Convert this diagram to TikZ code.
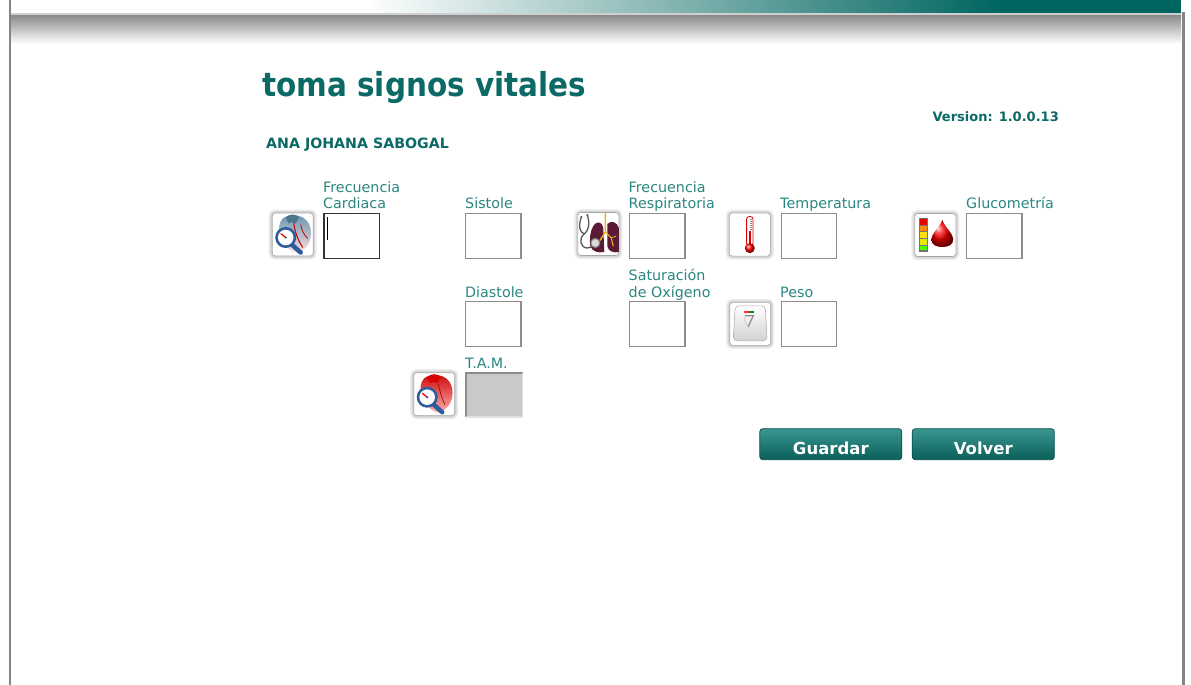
\documentclass[tikz,border=0pt]{standalone}
\usepackage{fontspec}
\setmainfont{DejaVu Sans}
\definecolor{titleteal}{HTML}{0B6A65}
\definecolor{labteal}{HTML}{2A8782}
\definecolor{barteal}{HTML}{00655F}
\definecolor{fieldgray}{HTML}{8C8C8C}
\definecolor{bandgray}{HTML}{CFCFCF}
\definecolor{shadowgray}{HTML}{8E8E8E}
\definecolor{linegray}{HTML}{858585}
\definecolor{btntop}{HTML}{3A9690}
\definecolor{btnbot}{HTML}{0A5F5A}
\definecolor{btndark}{HTML}{0A4F4B}
\definecolor{heartblue}{HTML}{5F93AE}
\definecolor{gaugeblue}{HTML}{2B5C9C}
\definecolor{lungred}{HTML}{5B1A35}
\definecolor{bronchi}{HTML}{F0B020}
\tikzset{
  lab/.style={anchor=base west, inner sep=0pt, text=labteal, font=\fontsize{14.3}{16}\selectfont},
  boldlab/.style={inner sep=0pt, text=titleteal, font=\bfseries\fontsize{13.5}{15}\selectfont},
  field/.style={draw=fieldgray, line width=1.4pt, fill=white, anchor=center, minimum width=55.5pt, minimum height=45pt, inner sep=0pt},
  iconframe/.style={anchor=center, minimum width=41pt, minimum height=43pt, inner sep=0pt, rounded corners=3pt, fill=white, draw=black!35, line width=0.6pt, preaction={draw=black!7, line width=7pt}, preaction={draw=black!16, line width=4pt}},
  btn/.style={anchor=center, minimum width=142pt, minimum height=31pt, inner sep=0pt, rounded corners=3pt, draw=btndark, line width=0.8pt, top color=btntop, bottom color=btnbot, text=white, text height=19.6pt, text depth=0pt, font=\bfseries\fontsize{16.5}{18}\selectfont},
}
\begin{document}
\begin{tikzpicture}[x=1pt,y=-1pt]
\useasboundingbox (0,0) rectangle (1191,685);
\fill[white] (0,0) rectangle (1191,685);
% header bar
\shade[left color=white, right color=barteal] (366,0) rectangle (1000,13);
\fill[barteal] (999.5,0) rectangle (1181,13);
\fill[bandgray] (10,13) rectangle (1181,16);
\shade[top color=shadowgray, bottom color=white] (10,16) rectangle (1181,44);
\fill[linegray] (8.5,0) rectangle (10.5,685);
\fill[linegray] (1182,12) rectangle (1185,685);

% titles
\node[anchor=base west, inner sep=0pt, text=titleteal, font=\bfseries\fontsize{33}{36}\selectfont] (title) at (262,96) {\scalebox{0.893}[1]{toma signos vitales}};
\node[boldlab, anchor=base east, font=\bfseries\fontsize{13}{15}\selectfont] (version) at (1059,121.7) {Version: 1.0.0.13};
\node[boldlab, anchor=base west, font=\bfseries\fontsize{14.2}{15}\selectfont] (patient) at (266,148) {ANA JOHANA SABOGAL};

% labels
\node[lab] (lFCa) at (323,192) {Frecuencia};
\node[lab] (lFCb) at (323,208.5) {Cardiaca};
\node[lab] (lSis) at (465,208.5) {Sistole};
\node[lab] (lFRa) at (628.5,192) {Frecuencia};
\node[lab] (lFRb) at (628.5,208.5) {Respiratoria};
\node[lab] (lTem) at (780,208.5) {Temperatura};
\node[lab] (lGlu) at (966,208.5) {Glucometría};
\node[lab] (lDia) at (465,297.3) {Diastole};
\node[lab] (lSata) at (628.5,280.7) {Saturación};
\node[lab] (lSatb) at (628.5,297.3) {de Oxígeno};
\node[lab] (lPes) at (780,297.3) {Peso};
\node[lab] (lTam) at (465,368.3) {T.A.M.};

% fields
\node[field, draw=black!80] (bFC) at (351.7,235.8) {};
\draw[black, line width=0.9pt] ([xshift=4.5pt,yshift=-4.5pt]bFC.north west) -- ([xshift=4.5pt,yshift=-27pt]bFC.north west);
\node[field] (bSis) at (493.3,235.8) {};
\node[field] (bFR) at (657.3,235.8) {};
\node[field] (bTem) at (809,235.8) {};
\node[field] (bGlu) at (994.3,235.8) {};
\node[field] (bDia) at (493.3,324.2) {};
\node[field] (bSat) at (657.2,324.2) {};
\node[field] (bPes) at (809,324.2) {};
\node[field, draw=none, fill=black!21, minimum height=43pt] (bTam) at (494.2,394.7) {};
\draw[black!45, line width=2pt] (bTam.south west) -- (bTam.north west) -- (bTam.north east);
\draw[black!12, line width=1.4pt] (bTam.north east) -- (bTam.south east) -- (bTam.south west);

% icon frames
\node[iconframe] (icFC) at (292.7,234.5) {};
\node[iconframe] (icFR) at (598.3,234) {};
\node[iconframe] (icTem) at (749.8,234.6) {};
\node[iconframe] (icGlu) at (935.3,235) {};
\node[iconframe] (icPes) at (750.2,323.8) {};
\node[iconframe] (icTam) at (434.2,394.2) {};

% heart icon (FC)
\begin{scope}[shift={(icFC.center)}]
  \shade[top color=heartblue, bottom color=red!12] (-10,-16) .. controls (-2,-22) and (13,-20) .. (17,-9) .. controls (21,2) and (16,14) .. (6,18) .. controls (-1,19) and (-8,12) .. (-12,3) .. controls (-15,-4) and (-14,-12) .. (-10,-16) -- cycle;
  \fill[heartblue!80!black] (-7,-17) .. controls (-3,-21) and (3,-21) .. (6,-17) -- (3,-11) .. controls (0,-13) .. (-4,-11) -- cycle;
  \draw[red!75!black, line width=1pt] (1,-12) .. controls (2,-3) and (5,5) .. (10,13);
  \draw[red!75!black, line width=0.8pt] (8,-10) .. controls (10,-2) .. (15,4);
  \draw[line width=4.5pt, gaugeblue, line cap=round] (-1,10) -- (8,18);
  \fill[gaugeblue] (-7,3) circle (10.5);
  \fill[white] (-7,3) circle (7.8);
  \draw[red, line width=1.3pt] (-7,3) -- (-12,-1);
  \fill[gaugeblue] (-7,3) circle (1.1);
\end{scope}

% heart icon (TAM)
\begin{scope}[shift={(icTam.center)}]
  \shade[top color=red!80!black, bottom color=red!30] (-10,-16) .. controls (-2,-22) and (13,-20) .. (17,-9) .. controls (21,2) and (16,14) .. (6,18) .. controls (-1,19) and (-8,12) .. (-12,3) .. controls (-15,-4) and (-14,-12) .. (-10,-16) -- cycle;
  \fill[red!85!black] (-7,-17) .. controls (-3,-21) and (3,-21) .. (6,-17) -- (3,-11) .. controls (0,-13) .. (-4,-11) -- cycle;
  \draw[red!60!black, line width=0.6pt] (4,-10) .. controls (6,-2) and (8,5) .. (11,11);
  \draw[line width=4.5pt, gaugeblue, line cap=round] (-1,10) -- (8,18);
  \fill[gaugeblue] (-7,3) circle (10.5);
  \fill[white] (-7,3) circle (7.8);
  \draw[red, line width=1.3pt] (-7,3) -- (-12,-1);
  \fill[gaugeblue] (-7,3) circle (1.1);
\end{scope}

% lungs + stethoscope (FR)
\begin{scope}[shift={(icFR.center)}]
  \fill[lungred] (-5,-8) .. controls (-1,-14) and (4,-12) .. (5,-6) -- (6,18) .. controls (0,19) and (-6,18) .. (-8,12) .. controls (-9,4) and (-8,-3) .. (-5,-8) -- cycle;
  \fill[lungred] (9,-10) .. controls (13,-14) and (19,-12) .. (20.5,-6) -- (20.5,18) .. controls (16,19) and (10,18) .. (9,12) -- cycle;
  \draw[bronchi, line width=1.4pt] (7,-21) -- (7,-2) -- (2,6);
  \draw[bronchi, line width=1.1pt] (7,-2) -- (13,4) -- (15,12);
  \draw[bronchi, line width=0.8pt] (3,5) -- (-1,10);
  \draw[bronchi, line width=0.8pt] (13,4) -- (18,2);
  \draw[black!65, line width=1.3pt] (-17,-17) .. controls (-20,-8) and (-19,-2) .. (-14,0);
  \draw[black!65, line width=1.3pt] (-11,-19) .. controls (-8,-10) and (-10,-3) .. (-14,0);
  \draw[black!65, line width=1.3pt] (-14,0) .. controls (-20,4) and (-18,14) .. (-11,14) .. controls (-5,14) and (-3,8) .. (-5,4);
  \draw[black!50, line width=1pt, fill=black!15] (-3,9) circle (4.5);
  \fill[black!60] (-17,-17) circle (1.2);
  \fill[black!60] (-11,-19) circle (1.2);
\end{scope}

% thermometer
\begin{scope}[shift={(icTem.center)}]
  \draw[red!85!black, line width=0.8pt, fill=white, rounded corners=2.5pt] (-3.2,-18) rectangle (3.2,11);
  \fill[red!85!black] (-1.3,-4) rectangle (1.3,12);
  \shade[ball color=red] (0,13.5) circle (5);
  \foreach \t in {-15,-13,...,-5} \draw[black!45, line width=0.4pt] (0.3,\t) -- (2.2,\t);
\end{scope}

% glucometer
\begin{scope}[shift={(icGlu.center)}]
  \fill[black!55] (-16.5,-17) rectangle (-7.5,16.5);
  \fill[red!90!black] (-15.3,-15.8) rectangle (-8.7,-10.3);
  \fill[orange!90!yellow] (-15.3,-9.2) rectangle (-8.7,-3.7);
  \fill[yellow!85!orange] (-15.3,-2.6) rectangle (-8.7,2.9);
  \fill[yellow!90!green] (-15.3,4) rectangle (-8.7,9.5);
  \fill[green!70!yellow] (-15.3,10.6) rectangle (-8.7,15.3);
  \shade[ball color=red] (7,-15) .. controls (10,-7) and (18,-1) .. (18,4) .. controls (18,10) and (13,12) .. (7,12) .. controls (1,12) and (-4,10) .. (-4,4) .. controls (-4,-1) and (4,-7) .. (7,-15) -- cycle;
\end{scope}

% bathroom scale
\begin{scope}[shift={(icPes.center)}]
  \shade[top color=white, bottom color=black!18, draw=black!30, line width=0.6pt, rounded corners=4pt] (-15,-18) -- (15,-18) -- (17,17) -- (-17,17) -- cycle;
  \fill[red!80] (-6,-13) rectangle (-1,-11);
  \fill[green!55!black] (-1,-13) rectangle (4,-11);
  \draw[black!45, line width=1.2pt] (-5,-8) -- (3,-8) -- (-2,3);
  \draw[black!25, line width=0.5pt] (-5,-8) .. controls (-6,-3) .. (-3,2);
\end{scope}

% buttons
\node[btn] (btnSave) at (830.8,444.2) {Guardar};
\node[btn] (btnBack) at (983.3,444.2) {Volver};
\end{tikzpicture}
\end{document}
